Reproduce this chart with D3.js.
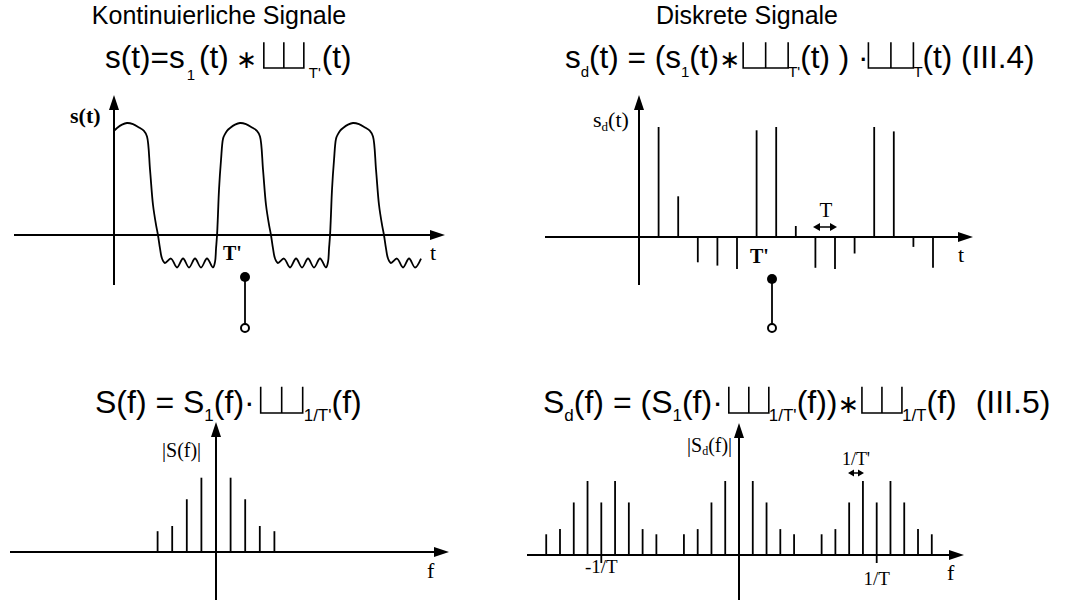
<!DOCTYPE html>
<html>
<head>
<meta charset="utf-8">
<script src="https://cdn.jsdelivr.net/npm/d3@7"></script>
<style>
  body { margin: 0; background: #fff; }
  svg { display: block; }
</style>
</head>
<body>
<div id="chart"></div>
<script>
const width = 1074;
const height = 601;

// one period of s1(t), t in units where T' = 10
const pulseT = [0, 0.27, 0.71, 1.15, 1.68, 2.21, 2.65, 2.92, 3.19, 3.45, 3.72, 3.89, 4.07, 4.25, 4.51,
                5.04, 5.58, 6.11, 6.64, 7.17, 7.70, 8.23, 8.76, 8.94, 9.03, 9.12, 9.20, 9.29, 9.47, 9.65, 9.82];
const pulseV = [0.93, 0.955, 0.985, 1.0, 0.99, 0.96, 0.93, 0.88, 0.58, 0.27, 0.09, 0, -0.12, -0.21, -0.25,
                -0.21, -0.29, -0.21, -0.29, -0.21, -0.29, -0.21, -0.29, -0.24, -0.12, 0, 0.18, 0.40, 0.67, 0.86, 0.9];
const periods = [0, 10, 20];

// samples s_d(kT)
const sampleK = [1, 2, 3, 4, 5, 6, 7, 8, 9, 10, 11, 12, 13, 14, 15];
const sampleV = [1, 0.37, -0.23, -0.26, -0.29, 0.97, 1, 0.1, -0.28, -0.29, -0.15, 1, 0.96, -0.09, -0.28];

// spectrum lines |S(n/T')|
const specN = [-4, -3, -2, -1, 0, 1, 2, 3, 4];
const specV = [0.28, 0.35, 0.71, 1, 0.71, 1, 0.71, 0.35, 0.28];
const replicas = [-10, 0, 10];

const sans = "'Liberation Sans', Arial, sans-serif";
const serif = "'Liberation Serif', 'Times New Roman', serif";

const svg = d3.select("#chart")
    .append("svg")
    .attr("width", width)
    .attr("height", height)
    .attr("viewBox", [0, 0, width, height]);

svg.append("rect").attr("width", width).attr("height", height).attr("fill", "#fff");

// arrow helper
function arrow(x1, y1, x2, y2, len = 15, hw = 5) {
    const a = Math.atan2(y2 - y1, x2 - x1);
    const bx = x2 - len * Math.cos(a), by = y2 - len * Math.sin(a);
    svg.append("line")
        .attr("x1", x1).attr("y1", y1).attr("x2", bx).attr("y2", by)
        .attr("stroke", "#000").attr("stroke-width", 2);
    const px = -Math.sin(a) * hw, py = Math.cos(a) * hw;
    svg.append("path")
        .attr("d", `M${x2},${y2}L${bx + px},${by + py}L${bx - px},${by - py}Z`)
        .attr("fill", "#000");
}

function dblArrow(x1, x2, y, len, hw) {
    svg.append("line").attr("x1", x1 + len).attr("x2", x2 - len).attr("y1", y).attr("y2", y)
        .attr("stroke", "#000").attr("stroke-width", 1.5);
    svg.append("path")
        .attr("d", `M${x1},${y}L${x1 + len},${y - hw}L${x1 + len},${y + hw}Z M${x2},${y}L${x2 - len},${y - hw}L${x2 - len},${y + hw}Z`)
        .attr("fill", "#000");
}

function label(x, y, txt, size, opts = {}) {
    return svg.append("text")
        .attr("x", x).attr("y", y)
        .attr("font-family", opts.family || serif)
        .attr("font-size", size)
        .attr("font-weight", opts.bold ? "bold" : "normal")
        .attr("text-anchor", opts.anchor || "start")
        .text(txt);
}

// formula layout: text pieces, subscripts and comb symbols in a row
function formula(x0, y0, size, subSize, tokens) {
    const g = svg.append("g").attr("font-family", sans);
    let x = x0;
    tokens.forEach(tk => {
        if (tk.gap) x += tk.gap;
        if (tk.shah) {
            const h = size * 0.82, w = tk.shah;
            g.append("path")
                .attr("d", `M${x},${y0 - h}V${y0}H${x + w}V${y0 - h}M${x + w / 2},${y0 - h}V${y0}`)
                .attr("fill", "none").attr("stroke", "#000").attr("stroke-width", 1.6);
            x += w;
            return;
        }
        if (tk.text === undefined) return;
        let fs = size, dy = 0;
        if (tk.sub) { fs = subSize; dy = tk.dy !== undefined ? tk.dy : 9; }
        const t = g.append("text")
            .attr("x", x).attr("y", y0 + dy)
            .attr("font-size", fs)
            .text(tk.text);
        if (tk.op) t.attr("font-family", "'DejaVu Sans', sans-serif").attr("font-size", size * 0.8);
        x += t.node().getComputedTextLength();
    });
}

// ---------- titles ----------
label(219, 24, "Kontinuierliche Signale", 25, { family: sans, anchor: "middle" });
label(747, 24, "Diskrete Signale", 25, { family: sans, anchor: "middle" });

formula(105, 68, 31.5, 15, [
    { text: "s(t)=s" }, { gap: 2, sub: true, text: "1", dy: 12 }, { gap: 4, text: "(t)" },
    { gap: 7, op: true, text: "∗" }, { gap: 7, shah: 40 }, { gap: 5, sub: true, text: "T'", dy: 10 },
    { gap: 1, text: "(t)" }
]);

formula(565, 68, 31.5, 15, [
    { text: "s" }, { sub: true, text: "d" }, { text: "(t) = (s" }, { sub: true, text: "1" },
    { text: "(t)" }, { op: true, text: "∗" }, { gap: 3, shah: 45 }, { sub: true, text: "T'" },
    { text: "(t) ) · " }, { shah: 45 }, { sub: true, text: "T" }, { text: "(t)    (III.4)" }
]);

formula(95, 413, 32, 17, [
    { text: "S(f) = S" }, { sub: true, text: "1", dy: 8 }, { text: "(f)·" }, { gap: 6, shah: 42 },
    { gap: 1, sub: true, text: "1/T'", dy: 8 }, { text: "(f)" }
]);

formula(543, 413, 32, 17, [
    { text: "S" }, { sub: true, text: "d", dy: 8 }, { text: "(f) = (S" }, { sub: true, text: "1", dy: 8 },
    { text: "(f)·" }, { gap: 6, shah: 40 }, { sub: true, text: "1/T'", dy: 8 }, { text: "(f))" },
    { op: true, text: "∗" }, { gap: 3, shah: 40 }, { sub: true, text: "1/T", dy: 8 }, { text: "(f)" },
    { gap: 19, text: "(III.5)" }
]);

// ---------- top left: continuous periodic signal ----------
const xA = d3.scaleLinear().domain([0, 30]).range([114, 453]);
const yA = d3.scaleLinear().domain([0, 1]).range([235, 123]);

arrow(14, yA(0), 445, yA(0));
arrow(xA(0), 285, xA(0), 95);

const wave = [];
periods.forEach(p => pulseT.forEach((t, i) => {
    if (t + p <= 27.2) wave.push([t + p, pulseV[i]]);
}));

svg.append("path")
    .datum(wave)
    .attr("fill", "none")
    .attr("stroke", "#000")
    .attr("stroke-width", 1.8)
    .attr("d", d3.line().x(d => xA(d[0])).y(d => yA(d[1])).curve(d3.curveCatmullRom.alpha(0.5)));

label(70, 123, "s(t)", 22, { bold: true });
label(223, 260, "T'", 20, { bold: true });
label(430, 260, "t", 22);

// ---------- top right: sampled signal ----------
const xB = d3.scaleLinear().domain([0, 15]).range([639, 933]);
const yB = d3.scaleLinear().domain([0, 1]).range([237, 127]);

svg.append("g")
    .selectAll("line")
    .data(sampleK)
    .join("line")
    .attr("x1", d => xB(d)).attr("x2", d => xB(d))
    .attr("y1", yB(0)).attr("y2", (d, i) => yB(sampleV[i]))
    .attr("stroke", "#000").attr("stroke-width", 1.8);

arrow(545, yB(0), 973, yB(0));
arrow(xB(0), 285, xB(0), 95);

const sd = label(593, 127, "s", 22);
sd.append("tspan").attr("font-size", 13).attr("dy", 4).text("d");
sd.append("tspan").attr("dy", -4).text("(t)");
label(826, 217, "T", 21, { anchor: "middle" });
dblArrow(813, 837, 227, 7, 4);
label(750, 263, "T'", 20, { bold: true });
label(958, 262, "t", 22);

// sampling switch symbols
[[245, 277, 328], [772, 279, 328]].forEach(([x, y1, y2]) => {
    svg.append("line").attr("x1", x).attr("x2", x).attr("y1", y1).attr("y2", y2)
        .attr("stroke", "#000").attr("stroke-width", 1.8);
    svg.append("circle").attr("cx", x).attr("cy", y1).attr("r", 5).attr("fill", "#000");
    svg.append("circle").attr("cx", x).attr("cy", y2).attr("r", 4).attr("fill", "#fff")
        .attr("stroke", "#000").attr("stroke-width", 2);
});

// ---------- bottom left: line spectrum ----------
const xC = d3.scaleLinear().domain([-4, 4]).range([216 - 4 * 14.6, 216 + 4 * 14.6]);
const yC = d3.scaleLinear().domain([0, 1]).range([552, 477.7]);

svg.append("g")
    .selectAll("line")
    .data(specN)
    .join("line")
    .attr("x1", d => xC(d)).attr("x2", d => xC(d))
    .attr("y1", yC(0)).attr("y2", (d, i) => yC(specV[i]))
    .attr("stroke", "#000").attr("stroke-width", 1.8);

arrow(10, yC(0), 449, yC(0));
arrow(xC(0), 600, xC(0), 422);

label(162, 457, "|S(f)|", 20);
label(427, 578, "f", 22);

// ---------- bottom right: periodic line spectrum ----------
const xD = d3.scaleLinear().domain([-14, 14]).range([739 - 14 * 13.77, 739 + 14 * 13.77]);
const yD = d3.scaleLinear().domain([0, 1]).range([555, 481]);

const specD = [];
replicas.forEach(r => specN.forEach((n, i) => specD.push([r + n, specV[i]])));

svg.append("g")
    .selectAll("line")
    .data(specD)
    .join("line")
    .attr("x1", d => xD(d[0])).attr("x2", d => xD(d[0]))
    .attr("y1", yD(0)).attr("y2", d => yD(d[1]))
    .attr("stroke", "#000").attr("stroke-width", 1.8);

// ticks at +-1/T
svg.append("g")
    .selectAll("line")
    .data([-10, 10])
    .join("line")
    .attr("x1", d => xD(d)).attr("x2", d => xD(d))
    .attr("y1", yD(0)).attr("y2", yD(0) + 8)
    .attr("stroke", "#000").attr("stroke-width", 1.8);

arrow(527, yD(0), 964, yD(0));
arrow(xD(0), 600, xD(0), 423);

const sdf = label(687, 452, "|S", 20);
sdf.append("tspan").attr("font-size", 12).attr("dy", 3).text("d");
sdf.append("tspan").attr("dy", -3).text("(f)|");
label(856, 465, "1/T'", 18, { anchor: "middle" });
dblArrow(848, 864, 473, 6, 3.5);
label(xD(-10), 573, "-1/T", 19, { anchor: "middle" });
label(xD(10), 585, "1/T", 19, { anchor: "middle" });
label(947, 580, "f", 22);
</script>
</body>
</html>
